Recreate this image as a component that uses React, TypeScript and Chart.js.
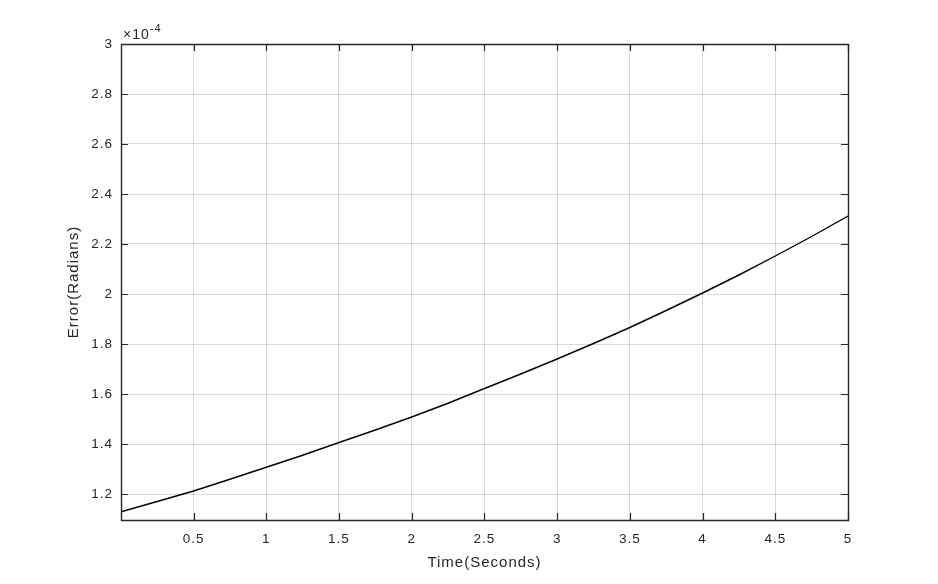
import React, { useEffect, useRef } from "react";
import { Chart, registerables } from "chart.js";

Chart.register(...registerables);

// Time (seconds)
const timeSeconds = [
  0.001, 0.25, 0.5, 0.75, 1.0, 1.25, 1.5, 1.75, 2.0, 2.25, 2.5, 2.75, 3.0,
  3.25, 3.5, 3.75, 4.0, 4.25, 4.5, 4.75, 5.0,
];
// Error in units of 1e-4 radians
const errorE4 = [
  1.129, 1.17, 1.212, 1.259, 1.307, 1.355, 1.406, 1.456, 1.508, 1.563, 1.622,
  1.68, 1.74, 1.802, 1.866, 1.934, 2.004, 2.076, 2.152, 2.23, 2.312,
];
const xTitle = "Time(Seconds)";
const yTitle = "Error(Radians)";
const multiplierBase = "\u00d710";
const multiplierExp = "-4";

const FONT = "'Liberation Sans', Arial, Helvetica, sans-serif";
const TEXT = "#262626";

const fmt = (v: number) => String(Number(v.toFixed(3)));

const boxPlugin = {
  id: "matlabBox",
  beforeDraw(chart: any) {
    chart.ctx.letterSpacing = "1px";
  },
  afterDatasetsDraw(chart: any) {
    const { ctx, chartArea } = chart;
    const { left, right, top, bottom } = chartArea;
    const xs = chart.scales.x;
    const ys = chart.scales.y;
    const tl = 7;
    ctx.save();
    ctx.strokeStyle = TEXT;
    ctx.lineWidth = 1.4;
    ctx.beginPath();
    ctx.rect(Math.round(left) + 0.5, Math.round(top) + 0.5, Math.round(right - left), Math.round(bottom - top));
    ctx.stroke();
    ctx.lineWidth = 1.2;
    ctx.beginPath();
    xs.ticks.forEach((t: any) => {
      const px = Math.round(xs.getPixelForValue(t.value)) + 0.5;
      ctx.moveTo(px, bottom);
      ctx.lineTo(px, bottom - tl);
      ctx.moveTo(px, top);
      ctx.lineTo(px, top + tl);
    });
    ys.ticks.forEach((t: any) => {
      const py = Math.round(ys.getPixelForValue(t.value)) + 0.5;
      ctx.moveTo(left, py);
      ctx.lineTo(left + tl, py);
      ctx.moveTo(right, py);
      ctx.lineTo(right - tl, py);
    });
    ctx.stroke();
    // multiplier label
    ctx.fillStyle = TEXT;
    ctx.textBaseline = "alphabetic";
    ctx.textAlign = "left";
    ctx.font = `14px ${FONT}`;
    ctx.fillText(multiplierBase, left + 2, top - 5);
    const w = ctx.measureText(multiplierBase).width;
    ctx.font = `11px ${FONT}`;
    ctx.fillText(multiplierExp, left + 2 + w, top - 12);
    ctx.restore();
  },
};

export default function App() {
  const ref = useRef<HTMLCanvasElement | null>(null);
  useEffect(() => {
    if (!ref.current) return;
    const chart = new Chart(ref.current, {
      type: "line",
      data: {
        datasets: [
          {
            data: timeSeconds.map((t, i) => ({ x: t, y: errorE4[i] })),
            borderColor: "#000000",
            borderWidth: 1.4,
            pointRadius: 0,
            tension: 0,
            fill: false,
          },
        ],
      },
      options: {
        responsive: false,
        animation: false,
        layout: { padding: { left: 0, top: 44, right: 90, bottom: 0 } },
        plugins: { legend: { display: false }, tooltip: { enabled: false } },
        scales: {
          x: {
            type: "linear",
            min: 0.001,
            max: 5,
            afterFit(scale: any) {
              scale.height = 64;
            },
            ticks: {
              stepSize: 0.5,
              includeBounds: false,
              padding: 11,
              color: TEXT,
              font: { family: FONT, size: 13.5 },
              maxRotation: 0,
              autoSkip: false,
              callback: (v: any) => fmt(Number(v)),
            },
            grid: { color: "rgba(38,38,38,0.17)", drawTicks: false, lineWidth: 1 },
            border: { display: false },
            title: {
              display: true,
              text: xTitle,
              color: TEXT,
              font: { family: FONT, size: 15 },
              padding: { top: 0, bottom: 12 },
            },
          },
          y: {
            type: "linear",
            min: 1.096,
            max: 3,
            afterFit(scale: any) {
              scale.width = 121;
            },
            ticks: {
              stepSize: 0.2,
              includeBounds: false,
              padding: 8,
              color: TEXT,
              font: { family: FONT, size: 13.5 },
              autoSkip: false,
              callback: (v: any) => fmt(Number(v)),
            },
            grid: { color: "rgba(38,38,38,0.17)", drawTicks: false, lineWidth: 1 },
            border: { display: false },
            title: {
              display: true,
              text: yTitle,
              color: TEXT,
              font: { family: FONT, size: 15 },
              padding: { top: 65, bottom: 0 },
            },
          },
        },
      },
      plugins: [boxPlugin],
    });
    return () => chart.destroy();
  }, []);
  return (
    <div style={{ position: "fixed", left: 0, top: 0, width: 938, height: 584, background: "#fff" }}>
      <canvas ref={ref} width={938} height={584} />
    </div>
  );
}
